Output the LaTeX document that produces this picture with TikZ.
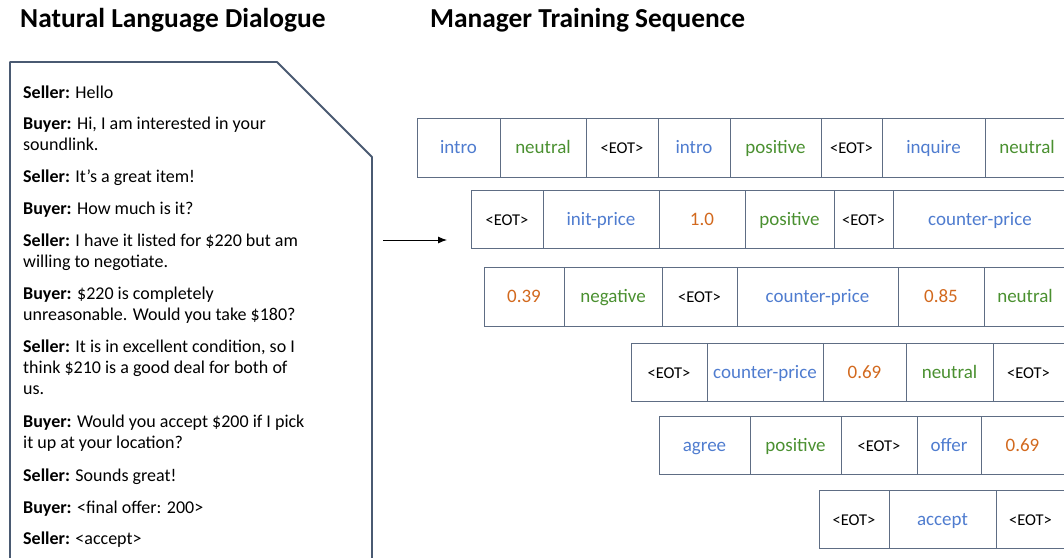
\documentclass[tikz,border=0pt]{standalone}
\usepackage{fontspec}
\setmainfont{Carlito}
\usetikzlibrary{arrows.meta}
\definecolor{actblue}{HTML}{4F7CCF}
\definecolor{sentgreen}{HTML}{4A9030}
\definecolor{numorange}{HTML}{D2691E}
\definecolor{boxline}{HTML}{4A5A72}
\definecolor{cellline}{HTML}{5E6D84}
\tikzset{
  cellbox/.style={draw=cellline, line width=0.9pt, inner sep=0pt, text height=16pt, text depth=4pt},
  act/.style={text=actblue, font=\fontsize{19}{22}\selectfont},
  sent/.style={text=sentgreen, font=\fontsize{19}{22}\selectfont},
  num/.style={text=numorange, font=\fontsize{19}{22}\selectfont},
  eot/.style={text=black, font=\fontsize{16.5}{20}\selectfont},
  para/.style={anchor=base west, align=left, inner sep=0pt, font=\fontsize{18}{21.3}\selectfont},
  ttl/.style={anchor=base west, inner sep=0pt, font=\fontsize{27.4}{32}\selectfont\bfseries}
}
% #1 name, #2 x1, #3 x2, #4 y1, #5 y2, #6 style, #7 text
\newcommand\tokcell[7]{%
  \node[cellbox,#6,minimum width={(#3-#2)*1pt},minimum height={(#5-#4)*1pt}] (#1) at ({(#2+#3)/2},{(#4+#5)/2}) {#7};}
\begin{document}
\begin{tikzpicture}[x=1pt,y=-1pt]
\useasboundingbox (0,0) rectangle (1064,557);
\clip (0,0) rectangle (1064,557);
% titles
\node[ttl] (t1) at (20,27) {Natural Language Dialogue};
\node[ttl] (t2) at (430,27) {Manager Training Sequence};
% dialogue box
\draw[boxline, line width=1.8pt, line join=round] (10,575) -- (10,62) -- (277,62) -- (372,157) -- (372,575);
% dialogue text (base anchor = last line of each paragraph)
\node[para] (p1) at (23,98) {\textbf{Seller:} Hello};
\node[para] (p2) at (23,150.3) {\textbf{Buyer:} Hi, I am interested in your\\soundlink.};
\node[para] (p3) at (23,182) {\textbf{Seller:} It’s a great item!};
\node[para] (p4) at (23,214) {\textbf{Buyer:} How much is it?};
\node[para] (p5) at (23,267.3) {\textbf{Seller:} I have it listed for \$220 but am\\willing to negotiate.};
\node[para] (p6) at (23,320.3) {\textbf{Buyer:} \$220 is completely\\unreasonable. Would you take \$180?};
\node[para] (p7) at (23,394.6) {\textbf{Seller:} It is in excellent condition, so I\\think \$210 is a good deal for both of\\us.};
\node[para] (p8) at (23,448.3) {\textbf{Buyer:} Would you accept \$200 if I pick\\it up at your location?};
\node[para] (p9) at (23,481) {\textbf{Seller:} Sounds great!};
\node[para] (p10) at (23,513) {\textbf{Buyer:} <final offer: 200>};
\node[para] (p11) at (23,544) {\textbf{Seller:} <accept>};
% arrow
\coordinate (as) at (383,240);
\coordinate (ae) at (447,240);
\draw[line width=0.9pt, -{Latex[length=9pt,width=7pt]}] (as) -- (ae);
% row 1
\tokcell{a1}{417}{500}{118}{177}{act}{intro}
\tokcell{a2}{500}{586}{118}{177}{sent}{neutral}
\tokcell{a3}{586}{658}{118}{177}{eot}{<EOT>}
\tokcell{a4}{658}{730}{118}{177}{act}{intro}
\tokcell{a5}{730}{821}{118}{177}{sent}{positive}
\tokcell{a6}{821}{882}{118}{177}{eot}{<EOT>}
\tokcell{a7}{882}{985}{118}{177}{act}{inquire}
\tokcell{a8}{985}{1069}{118}{177}{sent}{neutral}
% row 2
\tokcell{b1}{471}{543}{190}{248}{eot}{<EOT>}
\tokcell{b2}{543}{659}{190}{248}{act}{init-price}
\tokcell{b3}{659}{745}{190}{248}{num}{1.0}
\tokcell{b4}{745}{834}{190}{248}{sent}{positive}
\tokcell{b5}{834}{893}{190}{248}{eot}{<EOT>}
\tokcell{b6}{893}{1067}{190}{248}{act}{counter-price}
% row 3
\tokcell{c1}{484}{564}{267}{326}{num}{0.39}
\tokcell{c2}{564}{662}{267}{326}{sent}{negative}
\tokcell{c3}{662}{737}{267}{326}{eot}{<EOT>}
\tokcell{c4}{737}{898}{267}{326}{act}{counter-price}
\tokcell{c5}{898}{984}{267}{326}{num}{0.85}
\tokcell{c6}{984}{1066}{267}{326}{sent}{neutral}
% row 4
\tokcell{d1}{631}{707}{343}{401}{eot}{<EOT>}
\tokcell{d2}{707}{823}{343}{401}{act}{counter-price}
\tokcell{d3}{823}{906}{343}{401}{num}{0.69}
\tokcell{d4}{906}{993}{343}{401}{sent}{neutral}
\tokcell{d5}{993}{1064}{343}{401}{eot}{<EOT>}
% row 5
\tokcell{e1}{659}{750}{416}{474}{act}{agree}
\tokcell{e2}{750}{841}{416}{474}{sent}{positive}
\tokcell{e3}{841}{917}{416}{474}{eot}{<EOT>}
\tokcell{e4}{917}{981}{416}{474}{act}{offer}
\tokcell{e5}{981}{1064}{416}{474}{num}{0.69}
% row 6
\tokcell{f1}{819}{889}{490}{548}{eot}{<EOT>}
\tokcell{f2}{889}{996}{490}{548}{act}{accept}
\tokcell{f3}{996}{1065}{490}{548}{eot}{<EOT>}
\end{tikzpicture}
\end{document}
